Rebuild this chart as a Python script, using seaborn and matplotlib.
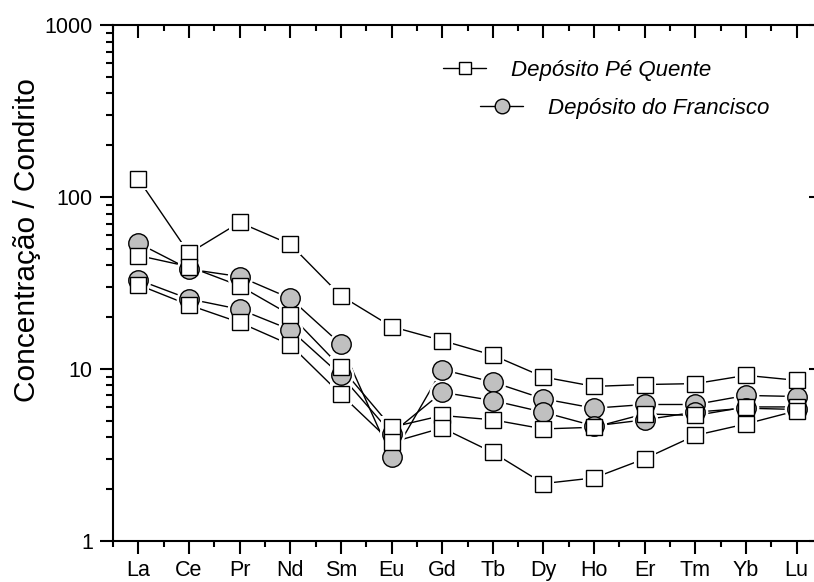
import numpy as np
import pandas as pd
import matplotlib
matplotlib.use("Agg")
import matplotlib.pyplot as plt
import seaborn as sns
from matplotlib.ticker import FixedLocator, LogLocator, NullFormatter, FixedFormatter
from matplotlib.lines import Line2D

# ---------------- data ----------------
elements = ["La", "Ce", "Pr", "Nd", "Sm", "Eu", "Gd", "Tb", "Dy", "Ho", "Er", "Tm", "Yb", "Lu"]

pe_quente_1 = [127, 47, 71, 53, 26.6, 17.6, 14.6, 12.0, 8.96, 7.9, 8.1, 8.2, 9.16, 8.57]
pe_quente_2 = [45.6, 39.3, 30.4, 20.6, 10.2, 4.57, 5.35, 5.05, 4.47, 4.57, 5.47, 5.35, 6.0, 6.0]
pe_quente_3 = [30.8, 23.5, 18.6, 13.8, 7.1, 3.73, 4.53, 3.26, 2.15, 2.32, 3.0, 4.1, 4.78, 5.7]

francisco_1 = [53.8, 38.0, 34.4, 25.7, 13.9, 3.05, 9.9, 8.37, 6.69, 5.9, 6.2, 6.2, 7.0, 6.9]
francisco_2 = [32.9, 25.5, 22.2, 16.9, 9.16, 4.2, 7.3, 6.54, 5.59, 4.65, 5.05, 5.6, 5.9, 5.8]

legend_labels = ["Depósito Pé Quente", "Depósito do Francisco"]
y_ticks = [1, 10, 100, 1000]
y_tick_labels = ["1", "10", "100", "1000"]
y_label = "Concentração / Condrito"

# ---------------- style ----------------
sns.set_theme(style="white")
plt.rcParams["font.family"] = ["Liberation Sans", "DejaVu Sans"]
plt.rcParams["text.color"] = "black"
plt.rcParams["axes.labelcolor"] = "black"
plt.rcParams["xtick.color"] = "black"
plt.rcParams["ytick.color"] = "black"

fig = plt.figure(figsize=(8.14, 5.82), dpi=100)
W, H = 814, 582
ax_left, ax_right, ax_top, ax_bottom = 113, 822, 25, 540.7
ax = fig.add_axes([ax_left / W, (H - ax_bottom) / H, (ax_right - ax_left) / W, (ax_bottom - ax_top) / H])
ax.set_facecolor("white")

x = np.arange(len(elements))

circle_fill = "#c0c0c0"
sq_ms = 12.0
ci_ms = 14.0

series = [
    (francisco_1, "o", circle_fill, ci_ms, 4),
    (francisco_2, "o", circle_fill, ci_ms, 4),
    (pe_quente_1, "s", "white", sq_ms, 5),
    (pe_quente_2, "s", "white", sq_ms, 5),
    (pe_quente_3, "s", "white", sq_ms, 5),
]

for vals, mk, fc, ms, z in series:
    df = pd.DataFrame({"x": x, "y": vals})
    # connecting line
    sns.lineplot(data=df, x="x", y="y", color="black", linewidth=1.0, ax=ax,
                 zorder=2, sort=False, estimator=None, legend=False)
    # white halo (gap between line and marker)
    sns.lineplot(data=df, x="x", y="y", ax=ax, linestyle="", marker=mk,
                 markersize=ms + 4.5, markerfacecolor="white", markeredgecolor="white",
                 markeredgewidth=0, color="white", zorder=3, sort=False,
                 estimator=None, legend=False)

for vals, mk, fc, ms, z in series:
    df = pd.DataFrame({"x": x, "y": vals})
    sns.lineplot(data=df, x="x", y="y", ax=ax, linestyle="", marker=mk,
                 markersize=ms, markerfacecolor=fc, markeredgecolor="black",
                 markeredgewidth=1.0, color="black", zorder=z, sort=False,
                 estimator=None, legend=False)

ax.set_yscale("log")
ax.set_ylim(1, 1000)
ax.set_xlim(-0.5, len(elements) - 0.5)

ax.yaxis.set_major_locator(FixedLocator(y_ticks))
ax.yaxis.set_major_formatter(FixedFormatter(y_tick_labels))
ax.yaxis.set_minor_locator(LogLocator(base=10, subs=np.arange(2, 10)))
ax.yaxis.set_minor_formatter(NullFormatter())

ax.xaxis.set_major_locator(FixedLocator(x))
ax.xaxis.set_major_formatter(FixedFormatter(elements))
ax.xaxis.set_minor_locator(FixedLocator(np.arange(-0.5, len(elements), 1.0)))

for sp in ax.spines.values():
    sp.set_linewidth(1.5)
    sp.set_color("black")
    sp.set_visible(True)

ax.tick_params(axis="both", which="both", colors="black", labelcolor="black", width=1.5)
ax.tick_params(axis="x", which="major", bottom=True, top=True, length=9, pad=5,
               labelsize=15.5, direction="out")
ax.tick_params(axis="x", which="minor", bottom=True, top=True, length=4.5, direction="out")
ax.tick_params(axis="y", which="major", left=True, right=True, length=9.5, pad=5,
               labelsize=15.5, direction="out")
ax.tick_params(axis="y", which="minor", left=True, right=True, length=5, direction="out")
# top and right ticks point inward
for t in ax.xaxis.get_major_ticks() + ax.xaxis.get_minor_ticks():
    t.tick2line.set_marker(matplotlib.lines.TICKDOWN)
for t in ax.yaxis.get_major_ticks() + ax.yaxis.get_minor_ticks():
    t.tick2line.set_marker(matplotlib.lines.TICKLEFT)

ax.set_xlabel("")
ax.set_ylabel(y_label, fontsize=21.5, color="black")
ax.yaxis.set_label_coords(-0.102, 0.583)

# ---------------- legend ----------------
h1 = Line2D([], [], color="black", lw=1.0, marker="s", markersize=9, markerfacecolor="white",
            markeredgecolor="black", markeredgewidth=1.0)
h2 = Line2D([], [], color="black", lw=1.0, marker="o", markersize=10.5, markerfacecolor=circle_fill,
            markeredgecolor="black", markeredgewidth=1.0)
common = dict(frameon=False, loc="center left", borderpad=0, borderaxespad=0,
              handlelength=1.95, handletextpad=1.1, labelcolor="black",
              prop={"style": "italic", "size": 16})
leg1 = ax.legend([h1], [legend_labels[0]], bbox_to_anchor=(0.4655, 0.9127), **common)
ax.add_artist(leg1)
ax.legend([h2], [legend_labels[1]], bbox_to_anchor=(0.5176, 0.8390), **common)

fig.savefig("out.png", dpi=100, facecolor="white")
